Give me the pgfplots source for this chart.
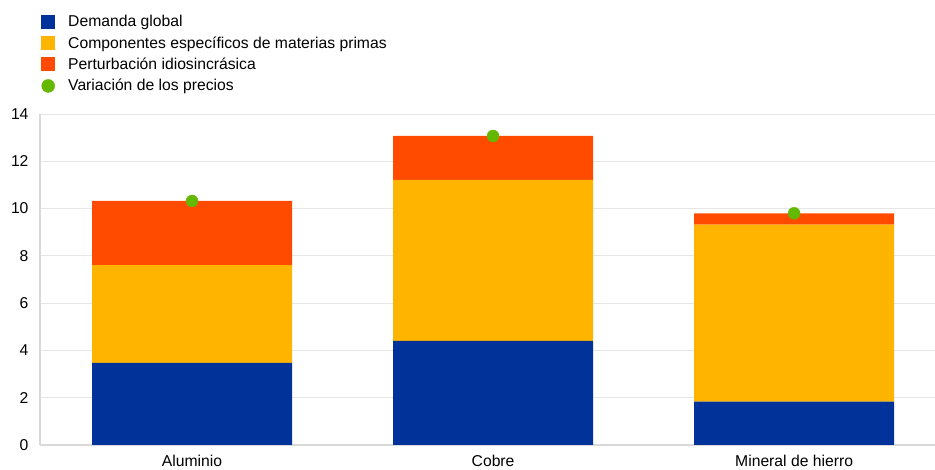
\documentclass[border=0pt]{standalone}
\usepackage{pgfplots}
\pgfplotsset{compat=1.18}
\usepackage{fontspec}
\setmainfont{Liberation Sans}
\definecolor{ecbblue}{HTML}{003299}
\definecolor{ecbyellow}{HTML}{FFB400}
\definecolor{ecbred}{HTML}{FF4B00}
\definecolor{ecbgreen}{HTML}{65B800}
\definecolor{gridgray}{HTML}{E6E6E6}
\definecolor{axisgray}{HTML}{D9D9D9}
\begin{document}
\begin{tikzpicture}[x=1pt,y=1pt]
\path[use as bounding box] (-40,-25) rectangle (895,445);
\pgfplotsset{
  base/.style={
    scale only axis, width=895pt, height=331pt,
    at={(0,0)}, anchor=south west,
    xmin=-0.505, xmax=2.468, ymin=0, ymax=14,
    ytick={0,2,...,14},
    xtick={0,1,2},
    xticklabels={Aluminio,Cobre,Mineral de hierro},
    major tick length=0pt,
    /pgf/number format/assume math mode=true,
    tick label style={font=\fontsize{15.7}{18}\selectfont},
  }
}
\begin{axis}[base,
  ybar stacked, bar width=200pt,
  axis x line*=bottom, axis y line*=left,
  axis line style={axisgray, line width=1.5pt},
  x axis line style={-}, y axis line style={-},
  ymajorgrids, grid style={gridgray, line width=0.8pt},
  yticklabel style={xshift=-8pt},
  xticklabel style={yshift=-7pt},
  legend style={at={(0,1)}, anchor=north west, xshift=1pt, yshift=101pt,
    draw=none, fill=none, font=\fontsize{15.7}{18}\selectfont,
    row sep=4.4pt, inner sep=0pt, legend cell align=left,
    /tikz/every odd column/.append style={column sep=11pt}},
]
\addplot[fill=ecbblue, draw=none, legend image code/.code={\fill[ecbblue] (0pt,-7pt) rectangle (14pt,7pt);}]
  coordinates {(0,3.47) (1,4.40) (2,1.83)};
\addlegendentry{Demanda global}
\addplot[fill=ecbyellow, draw=none, legend image code/.code={\fill[ecbyellow] (0pt,-7pt) rectangle (14pt,7pt);}]
  coordinates {(0,4.14) (1,6.81) (2,7.49)};
\addlegendentry{Componentes específicos de materias primas}
\addplot[fill=ecbred, draw=none, legend image code/.code={\fill[ecbred] (0pt,-7pt) rectangle (14pt,7pt);}]
  coordinates {(0,2.71) (1,1.86) (2,0.48)};
\addlegendentry{Perturbación idiosincrásica}
\addlegendimage{legend image code/.code={\fill[ecbgreen] (7pt,0pt) circle (6.5pt);}}
\addlegendentry{Variación de los precios}
\end{axis}
\begin{axis}[base, hide axis]
\addplot[only marks, mark=*, mark size=6pt, color=ecbgreen]
  coordinates {(0,10.32) (1,13.07) (2,9.80)};
\end{axis}
\end{tikzpicture}
\end{document}
